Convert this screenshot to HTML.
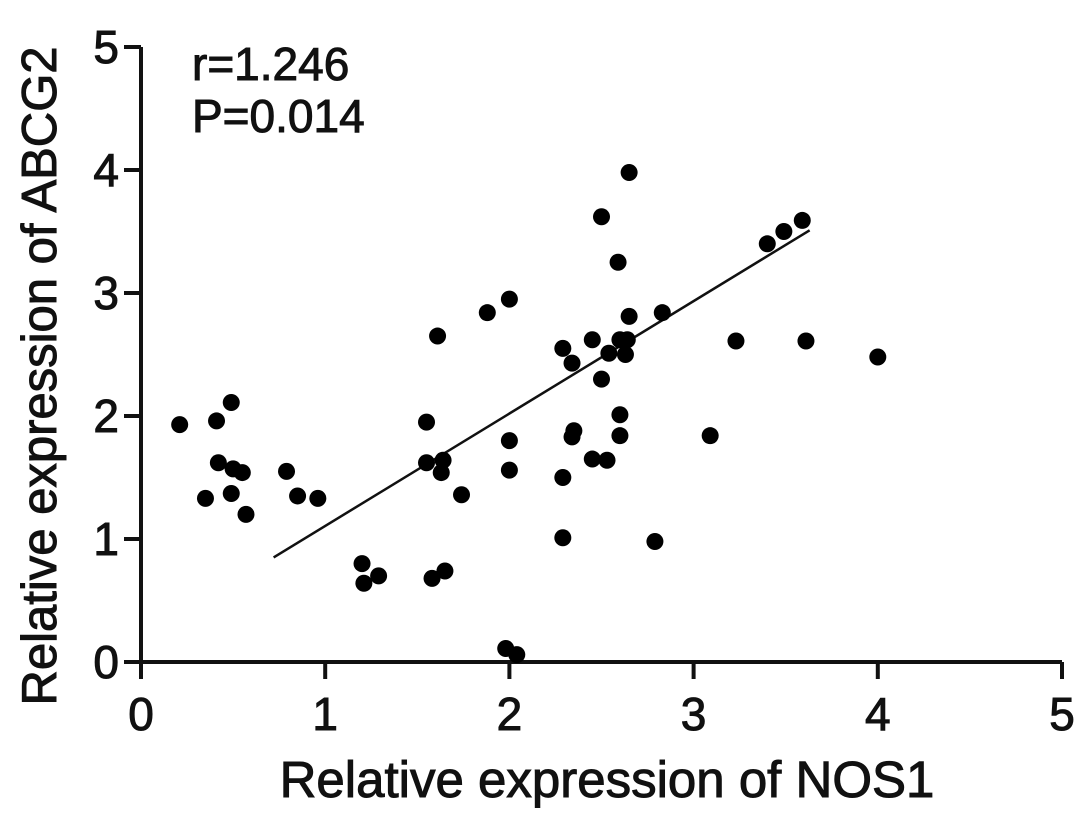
<!DOCTYPE html>
<html><head><meta charset="utf-8"><style>
html,body{margin:0;padding:0;background:#fff;}
svg{display:block;font-family:"Liberation Sans",Arial,sans-serif;}
text{stroke:#111;stroke-width:1;}
</style></head><body>
<svg id="chart" width="1087" height="820" viewBox="0 0 1087 820">
<g id="axes"></g>
<g id="marks"></g>
<text x="192" y="80" font-size="46" fill="#111">r=1.246</text>
<text x="192" y="132" font-size="46" fill="#111">P=0.014</text>
<text x="607" y="797" font-size="51" text-anchor="middle" fill="#111">Relative expression of NOS1</text>
<text transform="translate(56,376) rotate(-90)" font-size="49" text-anchor="middle" fill="#111">Relative expression of ABCG2</text>
</svg>
<script>
const xTicks=[0,1,2,3,4,5];
const yTicks=[0,1,2,3,4,5];
const xVals=[0.21,0.35,0.41,0.42,0.49,0.49,0.5,0.55,0.57,0.79,0.85,0.96,1.20,1.21,1.29,1.55,1.55,1.58,1.61,1.63,1.64,1.65,1.74,1.88,1.98,2.00,2.00,2.00,2.04,2.29,2.29,2.29,2.34,2.34,2.35,2.45,2.45,2.50,2.50,2.53,2.54,2.59,2.60,2.60,2.60,2.63,2.64,2.65,2.65,2.79,2.83,3.09,3.23,3.40,3.49,3.59,3.61,4.00];
const yVals=[1.93,1.33,1.96,1.62,1.37,2.11,1.57,1.54,1.20,1.55,1.35,1.33,0.80,0.64,0.70,1.95,1.62,0.68,2.65,1.54,1.64,0.74,1.36,2.84,0.11,2.95,1.80,1.56,0.06,2.55,1.50,1.01,2.43,1.83,1.88,2.62,1.65,3.62,2.30,1.64,2.51,3.25,2.62,2.01,1.84,2.50,2.62,3.98,2.81,0.98,2.84,1.84,2.61,3.40,3.50,3.59,2.61,2.48];
const fitX=[0.72,3.63];
const fitY=[0.85,3.51];
const NS="http://www.w3.org/2000/svg";
const X0=141,XU=184.2,Y0=662,YU=123;
function sx(v){return X0+v*XU;}
function sy(v){return Y0-v*YU;}
function mk(tag,attrs,parent){const e=document.createElementNS(NS,tag);for(const k in attrs)e.setAttribute(k,attrs[k]);parent.appendChild(e);return e;}
const axes=document.getElementById('axes'),marks=document.getElementById('marks');
let a=mk('line',{x1:sx(0),y1:sy(0),x2:sx(5),y2:sy(0),stroke:'#111','stroke-width':4},axes);


a=mk('line',{x1:sx(0),y1:sy(0)+2,x2:sx(0),y2:sy(5),stroke:'#111','stroke-width':4},axes);


xTicks.forEach(t=>{
 const l=mk('line',{x1:sx(t),y1:sy(0),x2:sx(t),y2:sy(0)+17,stroke:'#111','stroke-width':4},axes);
 
 
 const tx=mk('text',{x:sx(t),y:sy(0)+68,'font-size':46,'text-anchor':'middle',fill:'#111'},axes);
 tx.textContent=t;
 
 
});
yTicks.forEach(t=>{
 const l=mk('line',{x1:sx(0)-17,y1:sy(t),x2:sx(0),y2:sy(t),stroke:'#111','stroke-width':4},axes);
 
 
 const tx=mk('text',{x:sx(0)-22,y:sy(t)+16,'font-size':46,'text-anchor':'end',fill:'#111'},axes);
 tx.textContent=t;
 
 
});
const fl=mk('line',{x1:sx(fitX[0]),y1:sy(fitY[0]),x2:sx(fitX[1]),y2:sy(fitY[1]),stroke:'#111','stroke-width':2.5},marks);


xVals.forEach((x,i)=>{
 const c=mk('circle',{cx:sx(x),cy:sy(yVals[i]),r:8.5,fill:'#000'},marks);
 
 
});
</script>
</body></html>
